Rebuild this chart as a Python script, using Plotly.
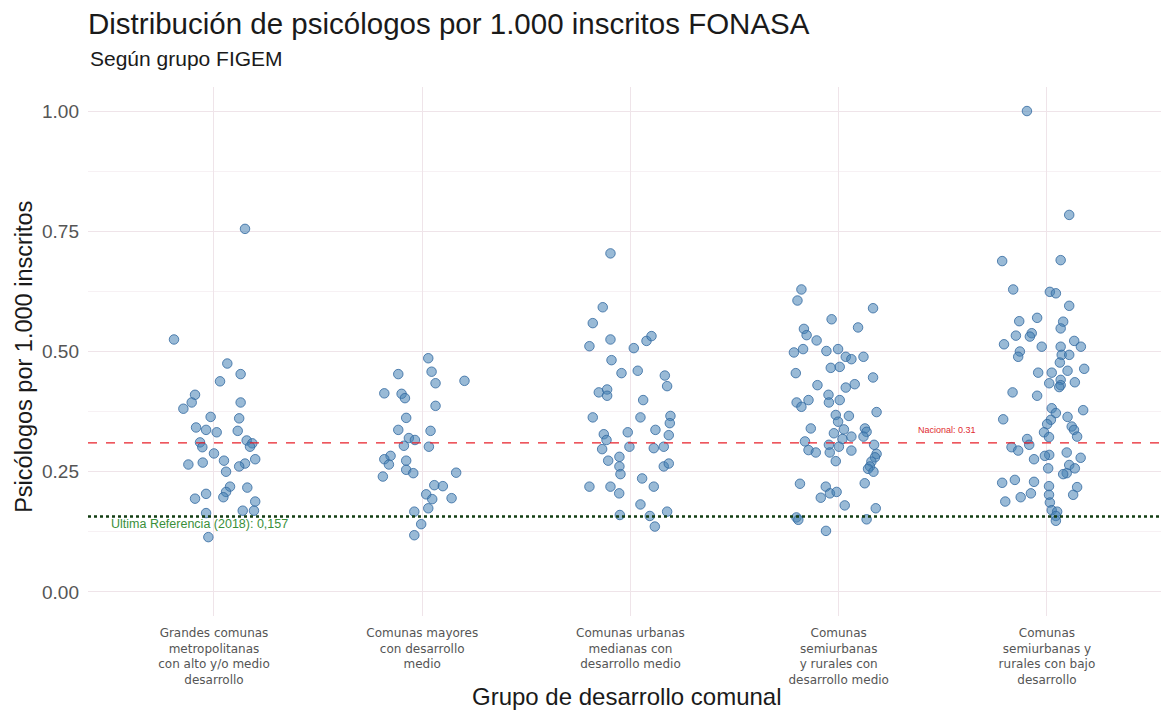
import plotly.graph_objects as go

# Grupos FIGEM (etiquetas del eje x)
grupos = [
    "Grandes comunas<br>metropolitanas<br>con alto y/o medio<br>desarrollo",
    "Comunas mayores<br>con desarrollo<br>medio",
    "Comunas urbanas<br>medianas con<br>desarrollo medio",
    "Comunas<br>semiurbanas<br>y rurales con<br>desarrollo medio",
    "Comunas<br>semiurbanas y<br>rurales con bajo<br>desarrollo",
]

# Psicólogos por 1.000 inscritos, por comuna
g1_valores = [0.755, 0.525, 0.475, 0.453, 0.438, 0.410, 0.394, 0.381, 0.394, 0.364,
              0.361, 0.342, 0.337, 0.332, 0.335, 0.311, 0.301, 0.315, 0.309, 0.302,
              0.288, 0.265, 0.269, 0.273, 0.267, 0.261, 0.276, 0.250, 0.219, 0.217,
              0.208, 0.197, 0.204, 0.194, 0.188, 0.169, 0.169, 0.164, 0.114]
g2_valores = [0.486, 0.453, 0.458, 0.434, 0.439, 0.413, 0.412, 0.403, 0.387, 0.362,
              0.337, 0.335, 0.320, 0.316, 0.304, 0.302, 0.283, 0.276, 0.265, 0.273,
              0.254, 0.247, 0.240, 0.248, 0.222, 0.220, 0.203, 0.193, 0.195, 0.174,
              0.167, 0.141, 0.118]
g3_valores = [0.704, 0.592, 0.559, 0.525, 0.511, 0.522, 0.532, 0.507, 0.482, 0.455,
              0.460, 0.450, 0.428, 0.415, 0.421, 0.408, 0.399, 0.363, 0.363, 0.366,
              0.351, 0.332, 0.337, 0.326, 0.328, 0.316, 0.297, 0.302, 0.299, 0.302,
              0.273, 0.281, 0.261, 0.245, 0.261, 0.267, 0.236, 0.219, 0.219, 0.219,
              0.205, 0.182, 0.167, 0.160, 0.158, 0.136]
g4_valores = [0.629, 0.606, 0.590, 0.567, 0.550, 0.547, 0.534, 0.523, 0.498, 0.505,
              0.501, 0.505, 0.489, 0.484, 0.489, 0.466, 0.468, 0.455, 0.446, 0.430,
              0.425, 0.432, 0.410, 0.399, 0.394, 0.399, 0.385, 0.394, 0.374, 0.368,
              0.366, 0.354, 0.340, 0.338, 0.340, 0.333, 0.330, 0.318, 0.323, 0.323,
              0.313, 0.306, 0.302, 0.306, 0.295, 0.290, 0.290, 0.294, 0.287, 0.280,
              0.272, 0.271, 0.261, 0.256, 0.250, 0.225, 0.226, 0.219, 0.205, 0.208,
              0.196, 0.180, 0.174, 0.155, 0.150, 0.151, 0.127]
g5_valores = [0.784, 0.688, 0.690, 0.629, 0.624, 0.621, 0.595, 0.563, 0.570, 0.562,
              0.548, 0.533, 0.538, 0.531, 0.515, 0.510, 0.510, 0.522, 0.510, 0.500,
              0.489, 0.493, 0.493, 0.477, 0.464, 0.456, 0.456, 0.460, 0.434, 0.441,
              0.430, 0.436, 0.426, 0.415, 0.408, 0.382, 0.378, 0.372, 0.364, 0.359,
              0.358, 0.349, 0.344, 0.337, 0.332, 0.323, 0.322, 0.318, 0.306, 0.301,
              0.294, 0.285, 0.283, 0.290, 0.276, 0.279, 0.264, 0.257, 0.257, 0.247,
              0.245, 0.227, 0.233, 0.229, 0.220, 0.218, 0.205, 0.197, 0.202, 0.202,
              0.188, 0.186, 0.170, 0.167, 0.158, 0.148, 1.000]

# Desplazamiento horizontal (jitter) de cada punto, en unidades de categoría
g1_jitter = [0.149, -0.192, 0.064, 0.128, 0.029, -0.091, -0.107, -0.147, 0.128, -0.016,
             0.121, -0.086, -0.038, 0.013, 0.114, -0.067, -0.056, 0.157, 0.184, 0.173,
             0.000, -0.123, -0.054, 0.048, 0.149, 0.121, 0.198, 0.058, 0.077, 0.160,
             0.058, 0.045, -0.038, -0.091, 0.198, 0.138, 0.192, -0.038, -0.027]
g2_jitter = [0.029, -0.115, 0.045, 0.064, 0.203, -0.182, -0.099, -0.083, 0.064, -0.077,
             -0.115, 0.040, -0.064, -0.035, -0.088, 0.032, -0.152, -0.182, -0.160, -0.077,
             -0.077, -0.043, -0.189, 0.163, 0.058, 0.099, 0.019, 0.048, 0.141, 0.029,
             -0.038, -0.005, -0.038]
g3_jitter = [-0.096, -0.133, -0.181, -0.096, -0.197, 0.077, 0.101, 0.016, -0.091, -0.043,
             0.035, 0.165, 0.176, -0.152, -0.112, -0.112, 0.061, -0.181, 0.048, 0.192,
             0.189, -0.013, 0.120, 0.184, -0.128, -0.115, -0.136, -0.005, 0.112, 0.160,
             -0.107, -0.053, -0.053, -0.048, 0.160, 0.184, 0.056, -0.197, -0.096, 0.112,
             -0.054, 0.048, 0.176, -0.051, 0.093, 0.117]
g4_jitter = [-0.179, -0.198, 0.165, -0.034, 0.093, -0.167, -0.154, -0.106, -0.215, -0.171,
             -0.059, -0.003, 0.034, 0.061, 0.119, -0.038, 0.005, -0.206, 0.165, -0.102,
             0.034, 0.077, -0.049, 0.005, -0.202, -0.145, -0.179, -0.047, 0.182, -0.014,
             0.049, -0.003, -0.134, 0.025, 0.126, 0.134, -0.023, 0.018, 0.061, 0.119,
             -0.162, -0.047, 0.001, 0.170, -0.145, -0.110, -0.043, 0.061, 0.182, 0.174,
             -0.014, 0.157, 0.150, 0.141, 0.167, -0.186, 0.125, -0.062, -0.042, -0.010,
             -0.086, 0.029, 0.178, -0.203, -0.194, 0.134, -0.061]
g5_jitter = [0.107, -0.215, 0.066, -0.162, 0.014, 0.043, 0.107, -0.133, -0.047, 0.078,
             0.066, -0.149, -0.073, -0.082, -0.206, -0.025, 0.066, 0.131, 0.163, -0.130,
             -0.138, 0.071, 0.107, 0.062, 0.179, -0.042, 0.023, 0.099, 0.011, 0.066,
             0.066, 0.134, 0.059, -0.165, -0.047, 0.023, 0.174, 0.043, 0.099, -0.210,
             0.019, 0.001, 0.119, 0.130, -0.014, 0.145, 0.010, -0.095, -0.085, -0.170,
             -0.138, 0.011, -0.010, 0.095, -0.062, 0.162, 0.107, 0.006, 0.134, 0.095,
             0.078, -0.215, -0.154, -0.062, 0.010, 0.145, -0.077, -0.126, 0.010, 0.126,
             -0.200, 0.014, 0.023, 0.049, 0.043, 0.043, -0.096]

# Líneas de referencia
nacional = 0.31
referencia_2018 = 0.157

y_ticks = [0.00, 0.25, 0.50, 0.75, 1.00]
y_ticktext = ["0.00", "0.25", "0.50", "0.75", "1.00"]

FONT = "Liberation Sans, Arial, sans-serif"
FONT_ANCHO = "DejaVu Sans, Verdana, sans-serif"
GRID = "#EFE4E9"

# la página deja 8 px de margen en el body: la figura se achica para caber
ANCHO, ALTO = 1161, 707

valores = [g1_valores, g2_valores, g3_valores, g4_valores, g5_valores]
jitters = [g1_jitter, g2_jitter, g3_jitter, g4_jitter, g5_jitter]

fig = go.Figure()

for i, (vals, jit) in enumerate(zip(valores, jitters), 1):
    fig.add_trace(go.Scatter(
        x=[i + j for j in jit],
        y=vals,
        mode="markers",
        marker=dict(size=9.5, color="rgba(70,130,180,0.55)",
                    line=dict(color="rgba(50,105,160,0.8)", width=1)),
        hoverinfo="y",
        showlegend=False,
    ))

fig.add_hline(y=nacional, line=dict(color="#E8202A", width=1.3, dash="dash"), layer="above")
fig.add_hline(y=referencia_2018, line=dict(color="#123D12", width=2.5, dash="dot"), layer="above")

fig.add_annotation(x=4.52, y=nacional, text=f"Nacional: {nacional}", showarrow=False,
                   xanchor="center", yanchor="bottom", yshift=6,
                   font=dict(family=FONT, size=9, color="#E02A30"))
fig.add_annotation(x=0.93, y=referencia_2018,
                   text=f"Ultima Referencia (2018): {str(referencia_2018).replace('.', ',')}",
                   showarrow=False, xanchor="center", yanchor="top", yshift=1,
                   font=dict(family=FONT, size=12.5, color="#3A8F3A"))

# Subtítulo y títulos de ejes
fig.add_annotation(x=0, y=1.053, xref="paper", yref="paper", text="Según grupo FIGEM",
                   showarrow=False, xanchor="left", yanchor="middle",
                   font=dict(family=FONT, size=21, color="#1A1A1A"))
fig.add_annotation(x=0.5, y=-0.153, xref="paper", yref="paper",
                   text="Grupo de desarrollo comunal", showarrow=False,
                   xanchor="center", yanchor="middle",
                   font=dict(family=FONT, size=24, color="#1A1A1A"))
fig.add_annotation(x=-0.0594, y=0.49, xref="paper", yref="paper",
                   text="Psicólogos por 1.000 inscritos", showarrow=False, textangle=-90,
                   xanchor="center", yanchor="middle",
                   font=dict(family=FONT, size=23.5, color="#1A1A1A"))

fig.update_layout(
    width=ANCHO,
    height=ALTO,
    margin=dict(l=80, r=4, t=79, b=99),
    plot_bgcolor="white",
    paper_bgcolor="white",
    font=dict(family=FONT, color="#222222"),
    title=dict(text="Distribución de psicólogos por 1.000 inscritos FONASA",
               x=0, xref="paper", xanchor="left",
               y=1 - 16 / ALTO, yref="container", yanchor="middle",
               font=dict(family=FONT, size=29.5, color="#1A1A1A")),
    xaxis=dict(
        range=[0.395, 5.567],
        tickvals=[1, 2, 3, 4, 5],
        ticktext=grupos,
        tickfont=dict(family=FONT_ANCHO, size=12, color="#555555"),
        showgrid=True, gridcolor=GRID, gridwidth=1,
        zeroline=False, showline=False, ticks="",
        ticklabelstandoff=8,
        automargin=False,
    ),
    yaxis=dict(
        range=[-0.05, 1.05],
        tickvals=y_ticks,
        ticktext=y_ticktext,
        tickfont=dict(family=FONT, size=19, color="#555555"),
        showgrid=True, gridcolor=GRID, gridwidth=1,
        minor=dict(dtick=0.125, tick0=0, showgrid=True, gridcolor="#F7F1F4", gridwidth=1),
        zeroline=False, showline=False, ticks="",
        ticklabelstandoff=8,
        automargin=False,
    ),
)

fig.write_html("out.html")
